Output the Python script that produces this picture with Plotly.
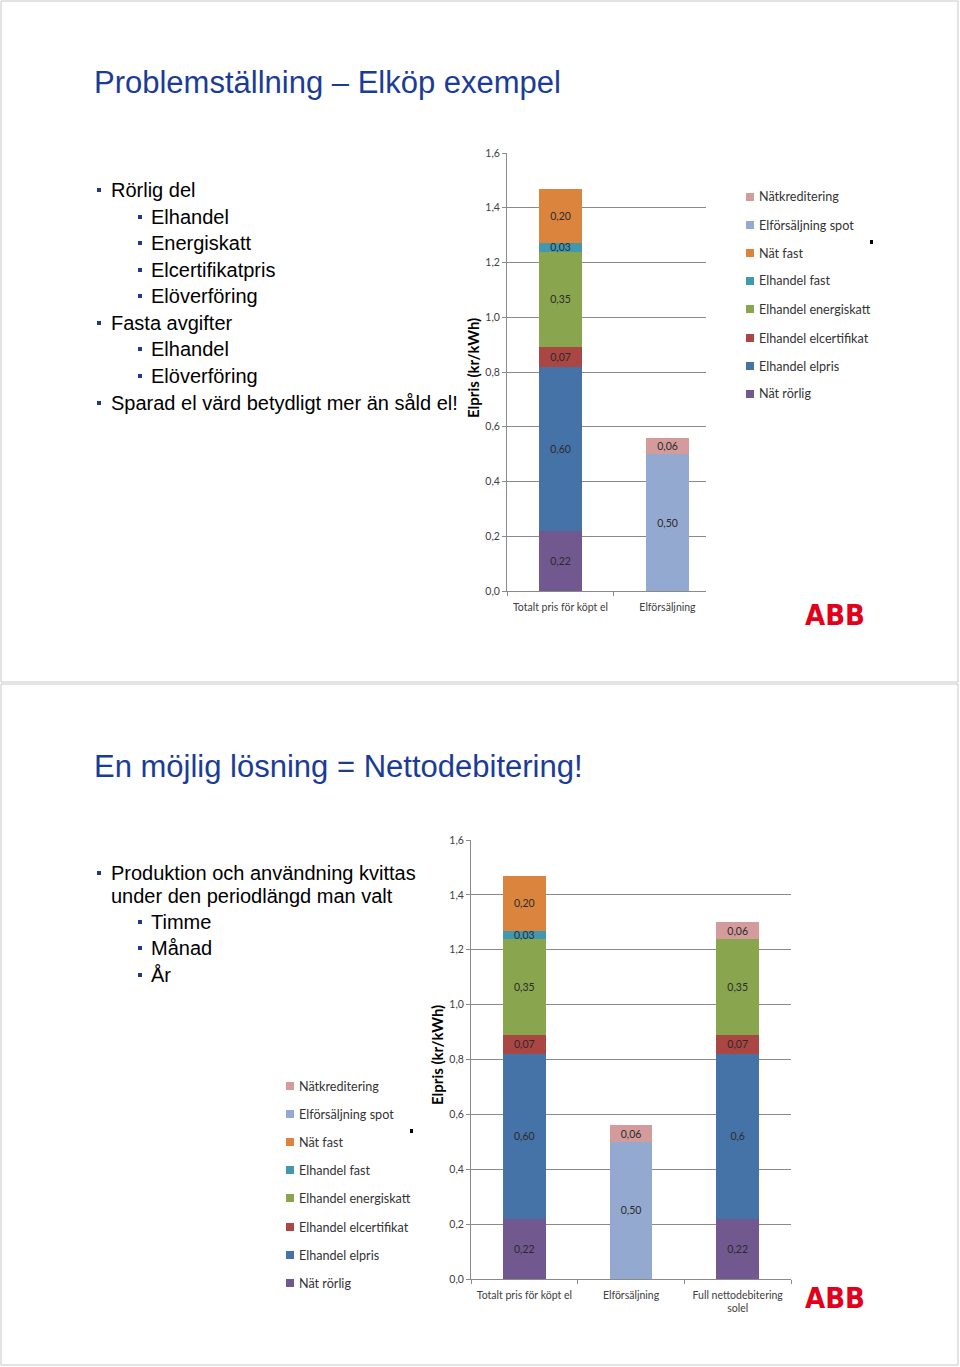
import plotly.graph_objects as go

W, H = 960, 1367

# ---------------- data ----------------
categories1 = ["Totalt pris för köpt el", "Elförsäljning"]
categories2 = ["Totalt pris för köpt el", "Elförsäljning", "Full nettodebitering<br>solel"]

series_names = ["Nät rörlig", "Elhandel elpris", "Elhandel elcertifikat", "Elhandel energiskatt",
                "Elhandel fast", "Nät fast", "Elförsäljning spot", "Nätkreditering"]

# chart 1 (Elköp exempel)
nat_rorlig_1 = [0.22, None]
elpris_1 = [0.60, None]
elcert_1 = [0.07, None]
energiskatt_1 = [0.35, None]
elhandel_fast_1 = [0.03, None]
nat_fast_1 = [0.20, None]
spot_1 = [None, 0.50]
natkred_1 = [None, 0.06]

# chart 2 (Nettodebitering)
nat_rorlig_2 = [0.22, None, 0.22]
elpris_2 = [0.60, None, 0.6]
elcert_2 = [0.07, None, 0.07]
energiskatt_2 = [0.35, None, 0.35]
elhandel_fast_2 = [0.03, None, None]
nat_fast_2 = [0.20, None, None]
spot_2 = [None, 0.50, None]
natkred_2 = [None, 0.06, 0.06]

# label decimals (the third bar shows "0,6")
elpris_2_decimals = [2, 2, 1]

y_ticks = [0.0, 0.2, 0.4, 0.6, 0.8, 1.0, 1.2, 1.4, 1.6]

colors = {
    "Nät rörlig": "#71588F",
    "Elhandel elpris": "#4572A7",
    "Elhandel elcertifikat": "#AA4643",
    "Elhandel energiskatt": "#89A54E",
    "Elhandel fast": "#4198AF",
    "Nät fast": "#DB843D",
    "Elförsäljning spot": "#93A9D0",
    "Nätkreditering": "#D39B9B",
}

chart1 = [nat_rorlig_1, elpris_1, elcert_1, energiskatt_1, elhandel_fast_1, nat_fast_1, spot_1, natkred_1]
chart2 = [nat_rorlig_2, elpris_2, elcert_2, energiskatt_2, elhandel_fast_2, nat_fast_2, spot_2, natkred_2]

title1 = "Problemställning – Elköp exempel"
title2 = "En möjlig lösning = Nettodebitering!"
bullets1 = [(1, "Rörlig del"), (2, "Elhandel"), (2, "Energiskatt"), (2, "Elcertifikatpris"),
            (2, "Elöverföring"), (1, "Fasta avgifter"), (2, "Elhandel"), (2, "Elöverföring"),
            (1, "Sparad el värd betydligt mer än såld el!")]
bullets2 = [(1, "Produktion och användning kvittas"), (0, "under den periodlängd man valt"),
            (2, "Timme"), (2, "Månad"), (2, "År")]


def px(x):
    return x / W


def py(y):
    return 1 - y / H


fig = go.Figure()

LABEL_FONT = dict(family="Lato, Open Sans, sans-serif", size=10.5, color="#2b2b2b")

for name, vals in zip(series_names, chart1):
    fig.add_trace(go.Bar(
        x=categories1, y=vals, name=name, marker_color=colors[name], marker_line_width=0,
        texttemplate="%{y:.2f}", textposition="inside", insidetextanchor="middle",
        textfont=LABEL_FONT, showlegend=False, xaxis="x", yaxis="y", hoverinfo="skip"))

for name, vals in zip(series_names, chart2):
    if name == "Elhandel elpris":
        tt = ["%{y:." + str(d) + "f}" for d in elpris_2_decimals]
    else:
        tt = "%{y:.2f}"
    fig.add_trace(go.Bar(
        x=categories2, y=vals, name=name, marker_color=colors[name], marker_line_width=0,
        texttemplate=tt, textposition="inside", insidetextanchor="middle",
        textfont=LABEL_FONT, showlegend=False, xaxis="x2", yaxis="y2", hoverinfo="skip"))

GRID = "#8a8a8a"
TICKFONT = dict(family="Lato, Open Sans, sans-serif", size=10.5, color="#404040")

yaxis_common = dict(range=[0, 1.6], tickvals=y_ticks, tickformat=".1f", showgrid=True,
                    gridcolor=GRID, gridwidth=1, showline=True, linecolor=GRID, linewidth=1,
                    ticks="outside", ticklen=4, tickcolor=GRID, tickfont=TICKFONT,
                    zeroline=False, fixedrange=True, automargin=False)
xaxis_common = dict(type="category", showgrid=False, showline=True, linecolor=GRID, linewidth=1,
                    ticks="outside", ticklen=4, tickcolor=GRID, tickson="boundaries",
                    tickfont=TICKFONT, ticklabelstandoff=6, zeroline=False, fixedrange=True,
                    automargin=False)

fig.update_layout(
    width=W, height=H, margin=dict(l=0, r=0, t=0, b=0, pad=0, autoexpand=False),
    paper_bgcolor="white", plot_bgcolor="white",
    barmode="stack", bargap=0.6, separators=",.",
    uniformtext=dict(minsize=10.5, mode="show"),
    xaxis=dict(domain=[px(507), px(706)], range=[-0.5, 1.36], anchor="y", **xaxis_common),
    yaxis=dict(domain=[py(591), py(153)], anchor="x", **yaxis_common),
    xaxis2=dict(domain=[px(471), px(791)], range=[-0.5, 2.5], anchor="y2", **xaxis_common),
    yaxis2=dict(domain=[py(1279), py(840)], anchor="x2", **yaxis_common),
)

shapes = []
annotations = []

# slide borders
for (t, b) in [(1, 682), (684, 1365)]:
    shapes.append(dict(type="rect", xref="paper", yref="paper", x0=px(1), x1=px(958),
                       y0=py(b), y1=py(t), line=dict(color="#c8c8c8", width=1), fillcolor="rgba(0,0,0,0)"))

TITLE_FONT = dict(family="Liberation Sans, Arial, sans-serif", size=31, color="#1B3C96")
annotations.append(dict(text=title1, x=px(92), y=py(83), xref="paper", yref="paper",
                        xanchor="left", yanchor="middle", showarrow=False, font=TITLE_FONT))
annotations.append(dict(text=title2, x=px(92), y=py(766), xref="paper", yref="paper",
                        xanchor="left", yanchor="middle", showarrow=False, font=TITLE_FONT))

BODY_FONT = dict(family="Liberation Sans, Arial, sans-serif", size=20, color="#000000")
BULLET_COLOR = "#1F3A8A"


def add_bullets(items, ys):
    for (lvl, txt), yy in zip(items, ys):
        tx = 111 if lvl <= 1 else 151
        annotations.append(dict(text=txt, x=px(tx - 2), y=py(yy), xref="paper", yref="paper",
                                xanchor="left", yanchor="middle", showarrow=False, font=BODY_FONT))
        if lvl >= 1:
            bx = 97 if lvl == 1 else 138
            shapes.append(dict(type="rect", xref="paper", yref="paper", x0=px(bx), x1=px(bx + 4),
                               y0=py(yy + 2), y1=py(yy - 2), line=dict(width=0), fillcolor=BULLET_COLOR))


add_bullets(bullets1, [190, 217, 243, 270, 296, 323, 349, 376, 403])
add_bullets(bullets2, [873, 896, 922, 948, 975])

# axis titles
AXT_FONT = dict(family="Lato, Open Sans, sans-serif", size=15, color="#000000")
annotations.append(dict(text="<b>Elpris (kr/kWh)</b>", x=px(473), y=py(368), xref="paper", yref="paper",
                        textangle=-90, showarrow=False, font=AXT_FONT, xanchor="center", yanchor="middle"))
annotations.append(dict(text="<b>Elpris (kr/kWh)</b>", x=px(437), y=py(1055), xref="paper", yref="paper",
                        textangle=-90, showarrow=False, font=AXT_FONT, xanchor="center", yanchor="middle"))

# manual legends (top to bottom)
legend_order = list(reversed(series_names))
LEG_FONT = dict(family="Lato, Open Sans, sans-serif", size=12.6, color="#333333")


def add_legend(sq_x, ys):
    for name, yy in zip(legend_order, ys):
        shapes.append(dict(type="rect", xref="paper", yref="paper", x0=px(sq_x), x1=px(sq_x + 8),
                           y0=py(yy + 4), y1=py(yy - 4), line=dict(width=0), fillcolor=colors[name]))
        annotations.append(dict(text=name, x=px(sq_x + 11), y=py(yy), xref="paper", yref="paper",
                                xanchor="left", yanchor="middle", showarrow=False, font=LEG_FONT))


add_legend(746, [197, 225, 253, 281, 309, 338, 366, 394])
add_legend(286, [1086, 1114, 1142, 1170, 1198, 1227, 1255, 1283])

# small stray marks seen in the slides
for (mx, my) in [(871, 242), (411, 1131)]:
    shapes.append(dict(type="rect", xref="paper", yref="paper", x0=px(mx - 1), x1=px(mx + 2),
                       y0=py(my + 2), y1=py(my - 2), line=dict(width=0), fillcolor="#000000"))

# ABB logos
for (lx, ly) in [(835, 615), (835, 1298)]:
    annotations.append(dict(text="<b>ABB</b>", x=px(lx), y=py(ly), xref="paper", yref="paper",
                            xanchor="center", yanchor="middle", showarrow=False,
                            font=dict(family="Liberation Sans Narrow, DejaVu Sans Condensed, Arial, sans-serif",
                                      size=29, color="#E2001A")))

fig.update_layout(shapes=shapes, annotations=annotations)

post = (
    "var gd=document.getElementById('{plot_id}');"
    "gd.style.position='fixed';gd.style.top='0px';gd.style.left='0px';"
    "document.documentElement.style.overflow='hidden';"
    "document.body.style.margin='0';document.body.style.overflow='hidden';"
)

fig.write_html("out.html", config={"displayModeBar": False, "staticPlot": True}, post_script=post)
